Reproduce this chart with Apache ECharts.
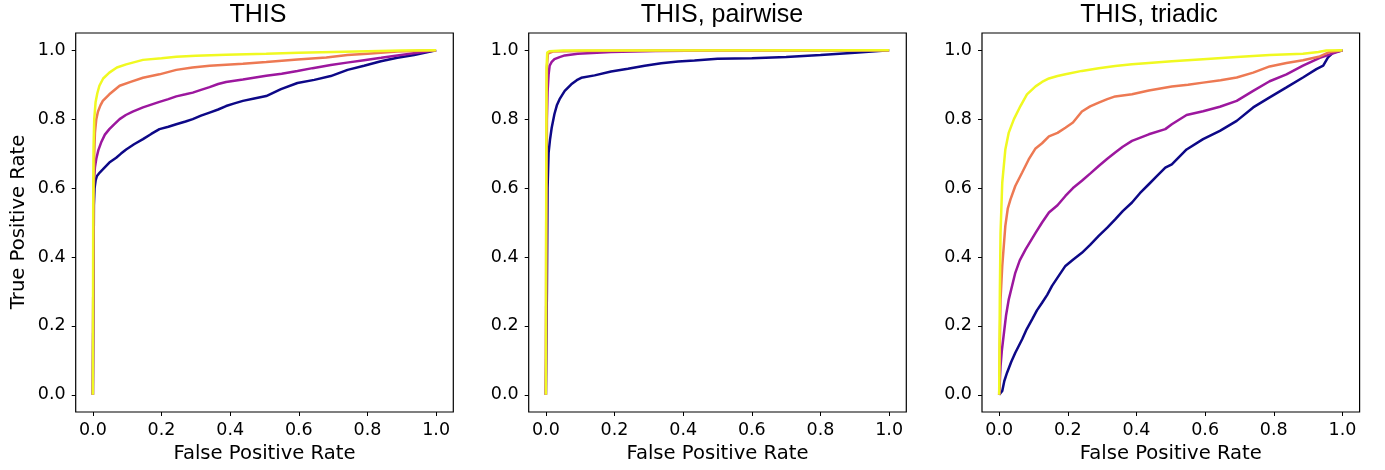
<!DOCTYPE html>
<html>
<head>
<meta charset="utf-8">
<script src="https://cdn.jsdelivr.net/npm/echarts@6/dist/echarts.min.js"></script>
<style>
  html, body { margin: 0; padding: 0; background: #fff; }
  #chart { width: 1385px; height: 470px; }
</style>
</head>
<body>
<div id="chart"></div>
<script>
// ROC curves, [false positive rate, true positive rate]
const panelTitles = ['THIS', 'THIS, pairwise', 'THIS, triadic'];
const tickValues = [0, 0.2, 0.4, 0.6, 0.8, 1.0];
const curveColors = ['#0d0887', '#9c179e', '#ed7953', '#f0f921'];

const thisBlue = [[0,0],[0.002,0.35],[0.003,0.55],[0.005,0.6],[0.008,0.622],[0.012,0.635],[0.02,0.645],[0.029,0.654],[0.048,0.674],[0.068,0.688],[0.082,0.7],[0.097,0.712],[0.12,0.727],[0.146,0.742],[0.17,0.757],[0.194,0.771],[0.22,0.778],[0.243,0.785],[0.27,0.793],[0.291,0.8],[0.315,0.81],[0.34,0.819],[0.365,0.828],[0.388,0.838],[0.41,0.845],[0.437,0.853],[0.47,0.86],[0.505,0.867],[0.548,0.887],[0.596,0.905],[0.645,0.914],[0.693,0.925],[0.742,0.943],[0.79,0.955],[0.839,0.968],[0.887,0.978],[0.936,0.986],[1,1]];
const thisPurple = [[0,0],[0.002,0.55],[0.003,0.62],[0.006,0.66],[0.01,0.685],[0.016,0.71],[0.024,0.732],[0.035,0.755],[0.048,0.771],[0.062,0.785],[0.078,0.8],[0.096,0.812],[0.116,0.822],[0.146,0.834],[0.17,0.842],[0.194,0.85],[0.22,0.858],[0.243,0.866],[0.27,0.872],[0.291,0.877],[0.315,0.885],[0.34,0.893],[0.365,0.902],[0.388,0.908],[0.437,0.915],[0.505,0.926],[0.55,0.932],[0.596,0.94],[0.64,0.948],[0.693,0.957],[0.74,0.964],[0.79,0.971],[0.84,0.978],[0.887,0.985],[0.94,0.992],[1,1]];
const thisOrange = [[0,0],[0.002,0.55],[0.004,0.7],[0.006,0.76],[0.01,0.8],[0.015,0.822],[0.022,0.84],[0.029,0.853],[0.048,0.872],[0.078,0.897],[0.11,0.908],[0.146,0.92],[0.194,0.93],[0.243,0.943],[0.29,0.95],[0.34,0.955],[0.437,0.961],[0.505,0.966],[0.596,0.973],[0.68,0.979],[0.742,0.986],[0.8,0.99],[0.887,0.996],[1,1]];
const thisYellow = [[0,0],[0.001,0.55],[0.002,0.72],[0.004,0.8],[0.008,0.85],[0.013,0.875],[0.019,0.897],[0.03,0.918],[0.048,0.935],[0.07,0.95],[0.097,0.959],[0.146,0.972],[0.2,0.977],[0.243,0.981],[0.3,0.984],[0.388,0.987],[0.505,0.99],[0.6,0.993],[0.7,0.995],[0.8,0.997],[0.9,0.999],[1,1]];

const pairBlue = [[0,0],[0.003,0.3],[0.005,0.6],[0.008,0.703],[0.012,0.74],[0.017,0.775],[0.025,0.815],[0.032,0.84],[0.04,0.858],[0.055,0.882],[0.074,0.901],[0.09,0.913],[0.103,0.92],[0.142,0.927],[0.19,0.938],[0.239,0.946],[0.288,0.955],[0.336,0.962],[0.385,0.967],[0.433,0.97],[0.5,0.975],[0.6,0.977],[0.7,0.98],[0.8,0.986],[0.9,0.993],[1,1]];
const pairPurple = [[0,0],[0.002,0.5],[0.003,0.8],[0.005,0.88],[0.008,0.93],[0.011,0.955],[0.017,0.966],[0.025,0.974],[0.04,0.98],[0.055,0.985],[0.093,0.99],[0.19,0.995],[0.32,0.998],[0.5,0.999],[1,1]];
const pairOrange = [[0,0],[0.001,0.5],[0.003,0.95],[0.006,0.99],[0.02,0.996],[0.1,0.998],[0.3,0.999],[1,1]];
const pairYellow = [[0,0],[0.001,0.6],[0.002,0.95],[0.004,0.993],[0.01,0.997],[0.05,0.999],[1,1]];

const triBlue = [[0,0],[0.009,0.011],[0.015,0.04],[0.023,0.064],[0.035,0.095],[0.047,0.122],[0.067,0.161],[0.08,0.19],[0.096,0.219],[0.11,0.245],[0.125,0.267],[0.14,0.29],[0.154,0.316],[0.17,0.34],[0.193,0.374],[0.215,0.392],[0.241,0.412],[0.265,0.435],[0.29,0.461],[0.315,0.485],[0.338,0.509],[0.36,0.533],[0.387,0.558],[0.41,0.585],[0.436,0.611],[0.46,0.635],[0.484,0.659],[0.503,0.669],[0.546,0.712],[0.594,0.742],[0.643,0.766],[0.692,0.795],[0.74,0.834],[0.788,0.863],[0.837,0.892],[0.885,0.921],[0.924,0.945],[0.944,0.955],[0.958,0.979],[0.973,0.993],[1,1]];
const triPurple = [[0,0],[0.002,0.04],[0.004,0.083],[0.008,0.13],[0.014,0.18],[0.02,0.23],[0.028,0.277],[0.047,0.354],[0.06,0.39],[0.077,0.422],[0.106,0.47],[0.125,0.5],[0.145,0.529],[0.17,0.55],[0.193,0.577],[0.215,0.6],[0.241,0.621],[0.265,0.642],[0.29,0.664],[0.315,0.685],[0.338,0.703],[0.36,0.72],[0.387,0.737],[0.436,0.756],[0.484,0.771],[0.503,0.785],[0.546,0.812],[0.594,0.823],[0.643,0.836],[0.692,0.853],[0.74,0.882],[0.788,0.91],[0.837,0.93],[0.885,0.955],[0.934,0.978],[0.973,0.991],[1,1]];
const triOrange = [[0,0],[0.002,0.15],[0.004,0.277],[0.009,0.374],[0.018,0.49],[0.025,0.54],[0.033,0.567],[0.047,0.606],[0.067,0.645],[0.086,0.683],[0.106,0.715],[0.125,0.73],[0.145,0.75],[0.17,0.76],[0.193,0.775],[0.215,0.79],[0.241,0.822],[0.265,0.837],[0.29,0.848],[0.315,0.858],[0.338,0.866],[0.387,0.872],[0.436,0.883],[0.503,0.895],[0.55,0.9],[0.594,0.906],[0.645,0.913],[0.692,0.921],[0.74,0.935],[0.788,0.953],[0.837,0.963],[0.885,0.971],[0.934,0.982],[0.963,0.995],[1,1]];
const triYellow = [[0,0],[0.002,0.3],[0.004,0.47],[0.009,0.616],[0.018,0.712],[0.028,0.761],[0.043,0.8],[0.062,0.838],[0.081,0.872],[0.106,0.895],[0.125,0.908],[0.145,0.918],[0.17,0.925],[0.193,0.93],[0.241,0.94],[0.29,0.948],[0.338,0.954],[0.387,0.959],[0.436,0.963],[0.503,0.968],[0.594,0.974],[0.692,0.98],[0.788,0.986],[0.885,0.99],[0.93,0.995],[0.953,0.999],[1,1]];

const panelCurves = [
  [thisBlue, thisPurple, thisOrange, thisYellow],
  [pairBlue, pairPurple, pairOrange, pairYellow],
  [triBlue, triPurple, triOrange, triYellow]
];

// layout of the three square plot boxes
const gridLefts = [75.7, 528.7, 982];
const gridTop = 33;
const gridW = 377.6;
const gridH = 379;
const titleCenters = [258, 722, 1149];

const tickFont = { fontFamily: 'DejaVu Sans', fontSize: 17.5, color: '#000' };
const labelFont = { fontFamily: 'DejaVu Sans', fontSize: 19.6, color: '#000' };

const grids = gridLefts.map(l => ({
  left: l, top: gridTop, width: gridW, height: gridH,
  show: true, borderColor: '#000', borderWidth: 1.2, backgroundColor: 'transparent'
}));

function makeAxis(i, isX) {
  return {
    gridIndex: i,
    type: 'value',
    min: -0.05, max: 1.05,
    splitLine: { show: false },
    axisLine: { show: false, onZero: false },
    axisTick: { show: true, inside: false, length: 4, lineStyle: { color: '#000', width: 1 }, customValues: tickValues },
    axisLabel: Object.assign({ customValues: tickValues, formatter: v => v.toFixed(1), margin: isX ? 9 : 10 }, tickFont),
    name: isX ? 'False Positive Rate' : '',
    nameLocation: 'middle',
    nameGap: 31,
    nameTextStyle: labelFont
  };
}

const xAxes = [0, 1, 2].map(i => makeAxis(i, true));
const yAxes = [0, 1, 2].map(i => makeAxis(i, false));

const series = [];
panelCurves.forEach((curves, p) => {
  curves.forEach((pts, k) => {
    series.push({
      type: 'line', xAxisIndex: p, yAxisIndex: p,
      data: pts, showSymbol: false, symbol: 'none',
      lineStyle: { color: curveColors[k], width: 2.5 },
      z: 2 + k
    });
  });
});

const graphics = panelTitles.map((t, i) => ({
  type: 'text', x: titleCenters[i], y: 15,
  style: { text: t, fontFamily: 'Liberation Sans', fontSize: 25, fill: '#000',
           align: 'center', verticalAlign: 'middle', textAlign: 'center', textVerticalAlign: 'middle' }
}));
graphics.push({
  type: 'text', x: 18.5, y: 222, rotation: Math.PI / 2,
  style: { text: 'True Positive Rate', fontFamily: 'DejaVu Sans', fontSize: 19.6, fill: '#000',
           align: 'center', verticalAlign: 'middle', textAlign: 'center', textVerticalAlign: 'middle' }
});

const chart = echarts.init(document.getElementById('chart'), null, { renderer: 'canvas' });
chart.setOption({
  animation: false,
  backgroundColor: '#fff',
  grid: grids,
  xAxis: xAxes,
  yAxis: yAxes,
  series: series,
  graphic: graphics
});
</script>
</body>
</html>
